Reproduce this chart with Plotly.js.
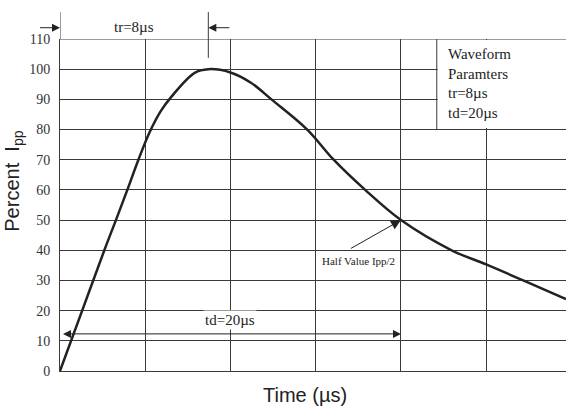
<!DOCTYPE html>
<html>
<head>
<meta charset="utf-8">
<script src="https://cdn.plot.ly/plotly-3.0.1.min.js"></script>
<style>html,body{margin:0;padding:0;background:#fff;}#chart{width:566px;height:408px;}</style>
</head>
<body>
<div id="chart"></div>
<script>
// Waveform samples
const timeUs = [0, 1.3, 2.6, 3.28, 3.95, 4.6, 5.25, 5.9, 6.55, 7.9, 8.7, 10, 11.2, 12.4, 14.5, 16.05, 17.9, 20, 22.97, 25, 27.17, 29.68];
const percentIpp = [0, 20, 40, 50, 60, 70, 79, 86, 91, 98.8, 100, 98.9, 95.5, 90, 80, 70, 60, 50, 40, 35.3, 30, 23.8];
const yTicks = [0, 10, 20, 30, 40, 50, 60, 70, 80, 90, 100, 110];
const tdValue = 20;
const boxText = ['Waveform', 'Paramters', 'tr=8\u00b5s', 'td=20\u00b5s'];

const serif = 'Liberation Serif, Times New Roman, serif';
const sans = 'Liberation Sans, Arial, sans-serif';
const ink = '#222';
const grid = '#3a3a3a';

let peakIdx = 0;
percentIpp.forEach((v, i) => { if (v > percentIpp[peakIdx]) peakIdx = i; });
const tPeak = timeUs[peakIdx];
const halfV = 50;

const xMax = 29.68;
const boxX = 22.1;

const trace = {
  x: timeUs, y: percentIpp, type: 'scatter', mode: 'lines',
  line: {color: ink, width: 2.5, shape: 'spline', smoothing: 1},
  hoverinfo: 'skip'
};

const layout = {
  width: 566, height: 408,
  margin: {l: 60, r: 0, t: 39, b: 37, pad: 0},
  paper_bgcolor: '#fff', plot_bgcolor: '#fff',
  showlegend: false,
  xaxis: {
    range: [0, xMax], dtick: 5, tick0: 0, showticklabels: false, ticks: '',
    showgrid: true, gridcolor: grid, gridwidth: 1,
    zeroline: false, showline: true, linecolor: grid, linewidth: 1, fixedrange: true
  },
  yaxis: {
    range: [0, 110], tickvals: yTicks, ticktext: yTicks.map(String), ticks: '',
    ticklabelstandoff: 6,
    tickfont: {family: serif, size: 14, color: '#333'},
    showgrid: true, gridcolor: grid, gridwidth: 1,
    zeroline: false, showline: true, linecolor: grid, linewidth: 1, fixedrange: true
  },
  shapes: [
    {type: 'line', xref: 'x', yref: 'y', x0: 0, x1: xMax, y0: 110, y1: 110, line: {color: grid, width: 1}},
    {type: 'rect', xref: 'x', yref: 'y', x0: boxX + 0.05, x1: xMax + 1, y0: 80.5, y1: 109.7, fillcolor: '#fff', line: {width: 0}, layer: 'above'},
    {type: 'line', xref: 'x', yref: 'y', x0: boxX, x1: boxX, y0: 80, y1: 110, line: {color: grid, width: 1}, layer: 'above'},
    {type: 'line', xref: 'x', yref: 'paper', x0: 0, x1: 0, y0: 1, y1: 1.081, line: {color: grid, width: 1}},
    {type: 'line', xref: 'x', yref: 'paper', x0: tPeak, x1: tPeak, y0: 0.943, y1: 1.081, line: {color: grid, width: 1}}
  ],
  annotations: [
    {xref: 'x', yref: 'paper', x: 0, y: 1.034, ax: -23, ay: 0, text: ' ', showarrow: true,
     arrowhead: 2, arrowsize: 1.6, arrowwidth: 1, arrowcolor: ink, standoff: 0},
    {xref: 'x', yref: 'paper', x: tPeak, y: 1.034, ax: 24, ay: 0, text: ' ', showarrow: true,
     arrowhead: 2, arrowsize: 1.6, arrowwidth: 1, arrowcolor: ink, standoff: 0},
    {xref: 'x', yref: 'paper', x: tPeak / 2, y: 1.037, text: 'tr=8\u00b5s', showarrow: false,
     font: {family: serif, size: 15, color: ink}, xanchor: 'center', yanchor: 'middle'},
    {xref: 'x', yref: 'y', x: tdValue, y: 12.3, axref: 'x', ayref: 'y', ax: 0, ay: 12.3, text: ' ',
     showarrow: true, arrowside: 'end+start', arrowhead: 2, arrowsize: 1.6, arrowwidth: 1, arrowcolor: ink, standoff: 0, startstandoff: 0},
    {xref: 'x', yref: 'y', x: tdValue / 2, y: 16.8, text: 'td=20\u00b5s', showarrow: false,
     font: {family: serif, size: 15, color: ink}, bgcolor: '#fff', borderpad: 1, xanchor: 'center', yanchor: 'middle'},
    {xref: 'x', yref: 'y', x: tdValue, y: halfV, ax: -53, ay: 30, text: ' ', showarrow: true,
     arrowhead: 2, arrowsize: 2, arrowwidth: 1, arrowcolor: ink, standoff: 0},
    {xref: 'x', yref: 'y', x: 17.5, y: 36.6, text: 'Half Value Ipp/2', showarrow: false,
     font: {family: serif, size: 11, color: ink}, xanchor: 'center', yanchor: 'middle'},
    {xref: 'x', yref: 'y', x: 22.62, y: 95.1, text: boxText.join('<br>'), showarrow: false, align: 'left',
     font: {family: serif, size: 15, color: ink}, xanchor: 'left', yanchor: 'middle'},
    {xref: 'paper', yref: 'paper', x: -0.091, y: 0.573, text: 'Percent&nbsp;&nbsp;I<sub>pp</sub>', showarrow: false,
     textangle: -90, font: {family: sans, size: 20, color: ink}, xanchor: 'center', yanchor: 'middle'},
    {xref: 'paper', yref: 'paper', x: 0.484, y: -0.073, text: 'Time (\u00b5s)', showarrow: false,
     font: {family: sans, size: 20, color: ink}, xanchor: 'center', yanchor: 'middle'}
  ]
};

Plotly.newPlot('chart', [trace], layout, {staticPlot: true, displayModeBar: false});
</script>
</body>
</html>
